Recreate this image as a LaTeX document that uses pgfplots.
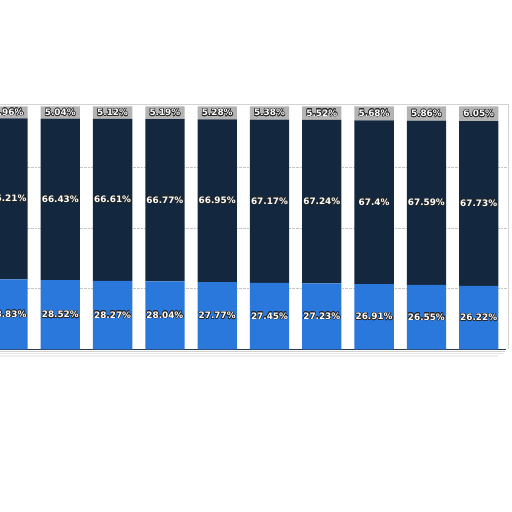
\documentclass[border=0pt]{standalone}
\usepackage{pgfplots}
\pgfplotsset{compat=1.18}
\usepackage{pgfplotstable}
\usepackage{fontspec}
\setmainfont{DejaVu Sans}
\usepackage{contour}
\contourlength{0.55pt}
\contournumber{16}

\definecolor{navy}{HTML}{13283F}
\definecolor{barblue}{HTML}{2B78DC}
\definecolor{topgrey}{HTML}{B3B3B3}

% share of each group per period (%)
\pgfplotstableread{
x low mid top
0 28.83 66.21 4.96
1 28.52 66.43 5.04
2 28.27 66.61 5.12
3 28.04 66.77 5.19
4 27.77 66.95 5.28
5 27.45 67.17 5.38
6 27.23 67.24 5.52
7 26.91 67.40 5.68
8 26.55 67.59 5.86
9 26.22 67.73 6.05
}\shares

\begin{document}
\begin{tikzpicture}
\useasboundingbox (0,0) rectangle (512bp,512bp);
\begin{axis}[
    at={(0bp,162.5bp)}, anchor=south west,
    scale only axis, width=508bp, height=245bp,
    xmin=-0.153, xmax=9.56, ymin=0, ymax=100.8,
    ybar stacked, bar width=39.3bp,
    clip=false,
    axis line style={draw=none},
    xtick=\empty, ytick={25,50,75}, yticklabels={},
    major tick length=0pt,
    ymajorgrids, grid style={densely dotted, gray!45, line width=0.6pt},
    /pgf/number format/assume math mode=true,
    point meta=explicit,
    nodes near coords={\contour{black!85}{\pgfmathprintnumber[fixed,precision=2]{\pgfplotspointmeta}\%}},
    % stacked labels already sit in the middle of their segment
    every node near coord/.style={anchor=center, text=white,
        font=\bfseries\fontsize{8.9}{10}\selectfont, inner sep=0pt},
]
\addplot[fill=barblue, draw=none] table[x=x, y=low, meta=low] {\shares};
\addplot[fill=navy, draw=none] table[x=x, y=mid, meta=mid] {\shares};
\addplot[fill=topgrey, draw=none] table[x=x, y=top, meta=top] {\shares};

% frame and soft shadow under the base line
\draw[gray!35, line width=0.8pt] (rel axis cs:0,1) -- (rel axis cs:1,1) -- (rel axis cs:1,0);
\draw[black!10, line width=2pt] ([yshift=-4bp]rel axis cs:0,0) -- ([yshift=-4bp]rel axis cs:0.99,0);
\draw[black!6, line width=2pt] ([yshift=-6.5bp]rel axis cs:0,0) -- ([yshift=-6.5bp]rel axis cs:0.98,0);
\draw[black!18, line width=1pt] ([yshift=-1.8bp]rel axis cs:0,0) -- ([yshift=-1.8bp]rel axis cs:0.995,0);
\draw[navy!80!gray, line width=1pt] (rel axis cs:0,0) -- (rel axis cs:0.996,0);
\end{axis}
\end{tikzpicture}
\end{document}
